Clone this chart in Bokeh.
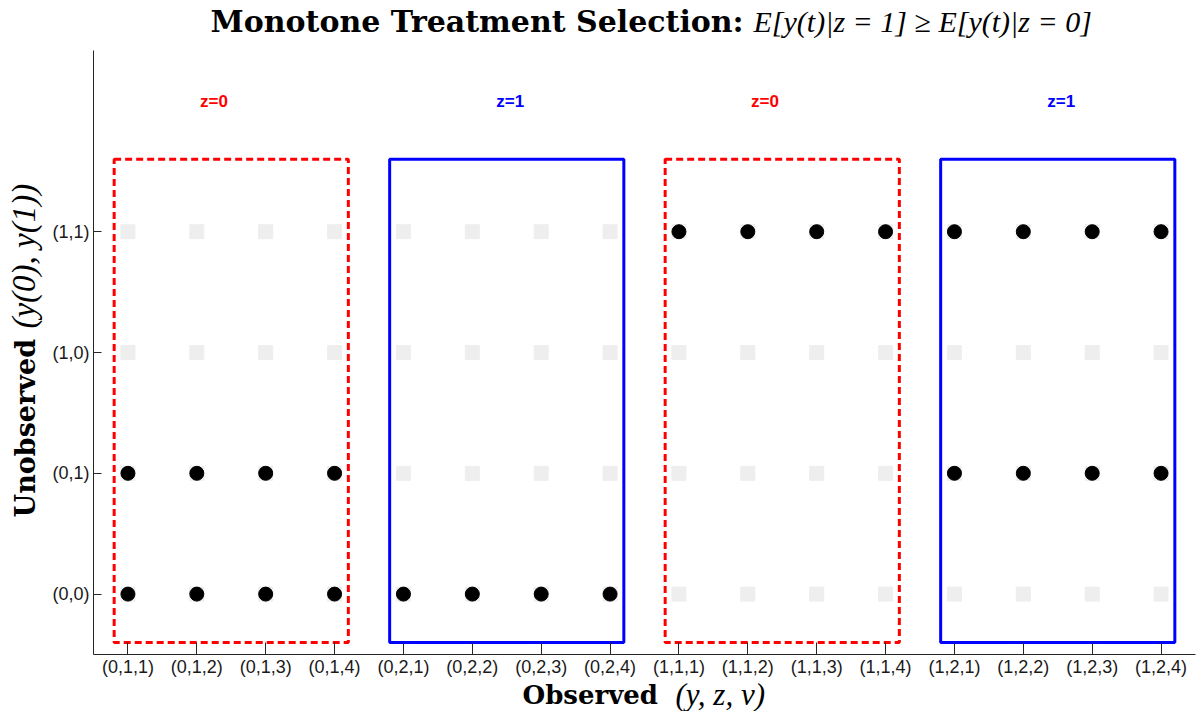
import math
from bokeh.plotting import figure
from bokeh.models import FixedTicker, ColumnDataSource
from bokeh.layouts import column, row
from bokeh.core.properties import value
from bokeh.embed import file_html
from bokeh.resources import INLINE

# ---------------- data ----------------
x_tick_labels = ["(0,1,1)", "(0,1,2)", "(0,1,3)", "(0,1,4)",
                 "(0,2,1)", "(0,2,2)", "(0,2,3)", "(0,2,4)",
                 "(1,1,1)", "(1,1,2)", "(1,1,3)", "(1,1,4)",
                 "(1,2,1)", "(1,2,2)", "(1,2,3)", "(1,2,4)"]
y_tick_labels = ["(0,0)", "(0,1)", "(1,0)", "(1,1)"]

group_names = ["z=0", "z=1", "z=0", "z=1"]
group_size = 4
# unobserved types in the support of each observed group
group_support = [["(0,0)", "(0,1)"],
                 ["(0,0)"],
                 ["(1,1)"],
                 ["(0,1)", "(1,1)"]]

title_bold = "Monotone Treatment Selection:"
title_math = "E[y(t)|z = 1] \u2265 E[y(t)|z = 0]"
xlabel_bold = "Observed"
xlabel_math = "(y, z, v)"
ylabel_bold = "Unobserved"
ylabel_math = "(y(0), y(1))"

# ---------------- styles ----------------
RED = "#ff0000"
BLUE = "#0000ff"
GRAY = "#eeeeee"
group_colors = [RED, BLUE, RED, BLUE]
group_dash = ["7 4", "solid", "7 4", "solid"]
label_shift = [-0.25, 0.05, -0.25, 0.05]

TOTAL_W = 1196
YLAB_W = 44
TITLE_H = 50
MAIN_H = 630
XLAB_H = 40
XLAB_OVERLAP = 9

nx = len(x_tick_labels)
ny = len(y_tick_labels)
xs_all = list(range(1, nx + 1))
ys_all = list(range(1, ny + 1))


def blank(w, h, transparent=False):
    f = figure(width=w, height=h, x_range=(0, w), y_range=(0, h),
               x_axis_type=None, y_axis_type=None,
               output_backend="svg", toolbar_location=None,
               min_border=0, min_border_left=0, min_border_right=0,
               min_border_top=0, min_border_bottom=0)
    f.outline_line_color = None
    if transparent:
        f.background_fill_alpha = 0
        f.border_fill_alpha = 0
    else:
        f.background_fill_color = "white"
        f.border_fill_color = "white"
    return f


# ---------------- main plot ----------------
p = figure(width=TOTAL_W - YLAB_W, height=MAIN_H,
           x_range=(0.5, nx + 0.5), y_range=(0.5, ny + 1.5),
           output_backend="svg", toolbar_location=None,
           min_border_left=93 - YLAB_W, min_border_right=1,
           min_border_top=0, min_border_bottom=26)
p.outline_line_color = None
p.xgrid.visible = False
p.ygrid.visible = False
p.background_fill_color = "white"
p.border_fill_color = "white"

# grid of all possible (observed, unobserved) combinations
gx = [x for x in xs_all for _ in ys_all]
gy = [y for _ in xs_all for y in ys_all]
p.scatter(gx, gy, marker="x", size=19, line_color=GRAY, line_width=2)
p.scatter(gx, gy, marker="square", size=14, fill_color=GRAY, line_color=GRAY)

# boxes and support points
dx, dy = [], []
for g, name in enumerate(group_names):
    x0 = g * group_size + 1
    x1 = x0 + group_size - 1
    p.quad(left=[x0 - 0.2], right=[x1 + 0.2], bottom=[0.6], top=[ny + 0.6],
           fill_color=None, line_color=group_colors[g], line_width=3,
           line_dash=group_dash[g])
    for x in range(x0, x1 + 1):
        for lev in group_support[g]:
            dx.append(x)
            dy.append(y_tick_labels.index(lev) + 1)

p.scatter(dx, dy, marker="circle", size=14, fill_color="black", line_color="black")

zsrc = ColumnDataSource(dict(
    x=[g * group_size + 2.5 + label_shift[g] for g in range(len(group_names))],
    y=[5.08] * len(group_names),
    t=group_names, c=group_colors))
p.text(x="x", y="y", text="t", text_color="c", source=zsrc,
       text_font=value("Liberation Sans"), text_font_style="bold",
       text_font_size="17px", text_align="center", text_baseline="alphabetic")

# axes
p.xaxis.ticker = FixedTicker(ticks=xs_all)
p.xaxis.major_label_overrides = {i + 1: t for i, t in enumerate(x_tick_labels)}
p.yaxis.ticker = FixedTicker(ticks=ys_all)
p.yaxis.major_label_overrides = {i + 1: t for i, t in enumerate(y_tick_labels)}
for ax in (p.xaxis, p.yaxis):
    ax.minor_tick_line_color = None
    ax.major_tick_out = 0
    ax.axis_line_color = "#262626"
    ax.major_tick_line_color = "#262626"
    ax.major_label_text_font = "Liberation Sans"
    ax.major_label_text_font_size = "18px"
    ax.major_label_text_color = "#1a1a1a"
p.xaxis.major_tick_in = 12
p.yaxis.major_tick_in = 8
p.xaxis.major_label_standoff = 2
p.yaxis.major_label_standoff = 4

# ---------------- title strip ----------------
t = blank(TOTAL_W, TITLE_H)
t.text(x=[210], y=[29], text=[title_bold],
       text_font=value("DejaVu Serif"), text_font_style="bold",
       text_font_size="30px", text_color="black",
       text_align="left", text_baseline="alphabetic")
t.text(x=[753], y=[29], text=[title_math],
       text_font=value("Liberation Serif"), text_font_style="italic",
       text_font_size="30px", text_color="black",
       text_align="left", text_baseline="alphabetic")

# ---------------- y label strip ----------------
yl = blank(YLAB_W, MAIN_H)
yl.text(x=[25], y=[MAIN_H - (537 - TITLE_H)], text=[ylabel_bold], angle=math.pi / 2,
        text_font=value("DejaVu Serif"), text_font_style="bold",
        text_font_size="27px", text_color="black",
        text_align="left", text_baseline="alphabetic")
yl.text(x=[23], y=[MAIN_H - (340 - TITLE_H)], text=[ylabel_math], angle=math.pi / 2,
        text_font=value("Liberation Serif"), text_font_style="italic",
        text_font_size="33px", text_color="black",
        text_align="left", text_baseline="alphabetic")

# ---------------- x label strip (overlaps the empty part of the axis panel) ----------------
xl = blank(TOTAL_W, XLAB_H, transparent=True)
xl.margin = (-XLAB_OVERLAP, 0, 0, 0)
xl.text(x=[522], y=[17], text=[xlabel_bold],
        text_font=value("DejaVu Serif"), text_font_style="bold",
        text_font_size="26px", text_color="black",
        text_align="left", text_baseline="alphabetic")
xl.text(x=[675], y=[17], text=[xlabel_math],
        text_font=value("Liberation Serif"), text_font_style="italic",
        text_font_size="31px", text_color="black",
        text_align="left", text_baseline="alphabetic")

layout = column(t, row(yl, p), xl)
open("out.html", "w").write(file_html(layout, INLINE))
